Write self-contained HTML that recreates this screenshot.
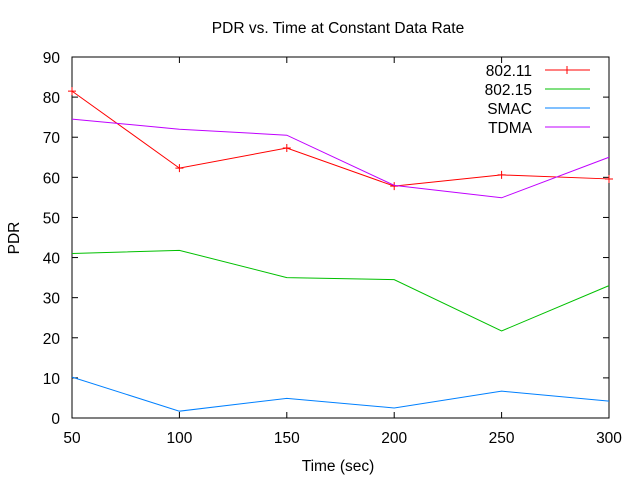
<!DOCTYPE html>
<html><head><meta charset="utf-8"><style>
html,body{margin:0;padding:0;background:#fff}
svg{display:block;font-family:"Liberation Sans",sans-serif;font-size:15.5px}
</style></head><body>
<svg id="chart" width="640" height="480">
<text x="338" y="33" text-anchor="middle">PDR vs. Time at Constant Data Rate</text>
<text x="338" y="471" text-anchor="middle">Time (sec)</text>
<text transform="translate(19,238) rotate(-90)" text-anchor="middle">PDR</text>
<rect x="72" y="57" width="537" height="361" fill="none" stroke="#000"/>
<g id="axes"></g><g id="series"></g><g id="legend"></g>
</svg>
<script>
const categories=[50,100,150,200,250,300];
const xTicks=[50,100,150,200,250,300];
const yTicks=[0,10,20,30,40,50,60,70,80,90];
const s80211=[81.5,62.3,67.3,57.8,60.6,59.6];
const s80215=[41,41.8,35,34.5,21.7,33];
const sSMAC=[10.2,1.7,4.9,2.5,6.7,4.2];
const sTDMA=[74.5,72,70.5,58,54.9,65];
const seriesNames=["802.11","802.15","SMAC","TDMA"];
const NS="http://www.w3.org/2000/svg";
const L=72,R=609,T=57,B=418;
function xs(v){return L+(v-50)/250*(R-L);}
function ys(v){return B-v/90*(B-T);}
function mk(t,a,p){const e=document.createElementNS(NS,t);for(const k in a)e.setAttribute(k,a[k]);p.appendChild(e);return e;}
const ax=document.getElementById('axes');
xTicks.forEach(v=>{const x=xs(v);
 const t=mk('line',{x1:x,x2:x,y1:B,y2:B-6,stroke:'#000'},ax);
 
 const t2=mk('line',{x1:x,x2:x,y1:T,y2:T+6,stroke:'#000'},ax);
 
 const l=mk('text',{x:x,y:B+25,'text-anchor':'middle'},ax);l.textContent=v;
 });
yTicks.forEach(v=>{const y=ys(v);
 const t=mk('line',{x1:L,x2:L+6,y1:y,y2:y,stroke:'#000'},ax);
 
 const t2=mk('line',{x1:R,x2:R-6,y1:y,y2:y,stroke:'#000'},ax);
 
 const l=mk('text',{x:L-12,y:y+6,'text-anchor':'end'},ax);l.textContent=v;
 });
const sg=document.getElementById('series'),lg=document.getElementById('legend');
const data=[s80211,s80215,sSMAC,sTDMA],cols=['#ff0000','#00c000','#0080ff','#c000ff'];
data.forEach((d,i)=>{
 const pts=d.map((v,j)=>xs(categories[j])+','+ys(v)).join(' ');
 const pl=mk('polyline',{points:pts,fill:'none',stroke:cols[i],'stroke-width':1},sg);
 
 if(i===0)d.forEach((v,j)=>{const x=xs(categories[j]),y=ys(v);
  const m=mk('path',{d:`M${x-4},${y}h8M${x},${y-4}v8`,stroke:cols[i]},sg);
  });
 const ly=70+i*19;
 const lt=mk('text',{x:532,y:ly+6,'text-anchor':'end'},lg);lt.textContent=seriesNames[i];
 
 const ll=mk('line',{x1:545,x2:590,y1:ly,y2:ly,stroke:cols[i]},lg);
 
 if(i===0){const m=mk('path',{d:`M563,${ly}h8M567,${ly-4}v8`,stroke:cols[i]},lg);
  }
});
</script>
</body></html>
